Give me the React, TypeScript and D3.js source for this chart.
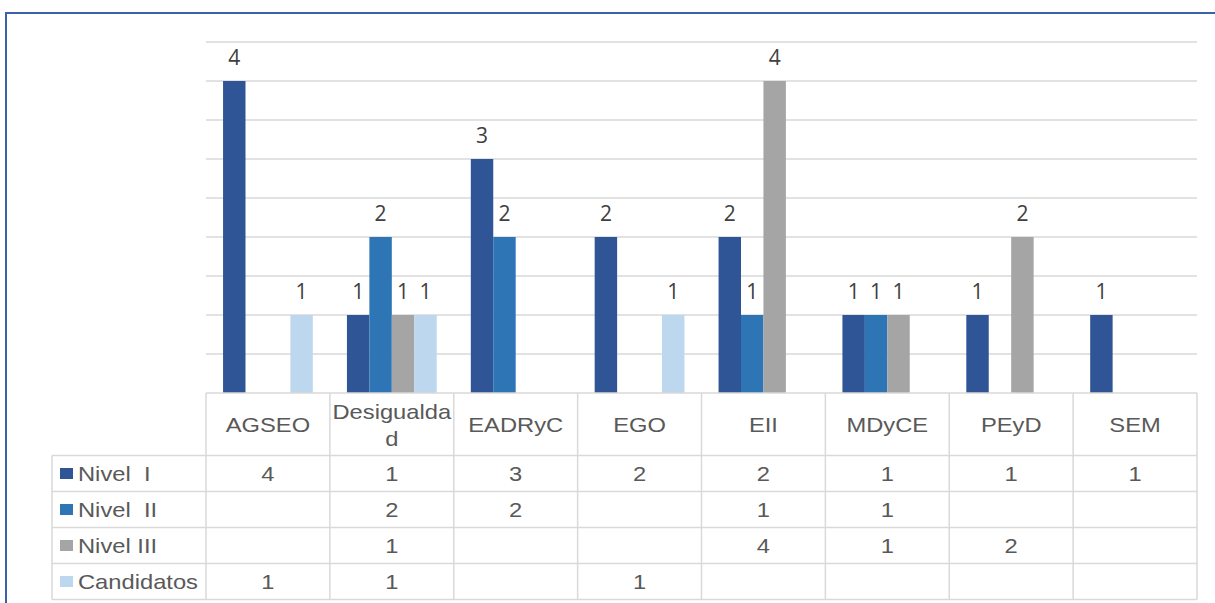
import React from "react";
import * as d3 from "d3";

const categories = ["AGSEO", "Desigualdad", "EADRyC", "EGO", "EII", "MDyCE", "PEyD", "SEM"];
const seriesNames = ["Nivel  I", "Nivel  II", "Nivel III", "Candidatos"];
const nivelI = [4, 1, 3, 2, 2, 1, 1, 1];
const nivelII = [null, 2, 2, null, 1, 1, null, null];
const nivelIII = [null, 1, null, null, 4, 1, 2, null];
const candidatos = [1, 1, null, 1, null, null, null, null];
const colors = ["#2F5597", "#2E75B6", "#A5A5A5", "#BDD7EE"];

const series = [nivelI, nivelII, nivelIII, candidatos];

const W = 1215;
const H = 603;
const plot = {left: 206, right: 1197, top: 42, bottom: 393};
const headerBottom = 455.5;
const rowH = 36;
const legendLeft = 52;
const stretch = 1.13;
const gridColor = "#d9d9d9";
const textColor = "#595959";
const tableFont = "'Liberation Sans', Arial, sans-serif";

// wrap long header labels like Excel does
const wrap = (s: string) => (s.length > 10 ? [s.slice(0, 10), s.slice(10)] : [s]);

const App: React.FC = () => {
    const x = d3.scaleBand<string>().domain(categories).range([plot.left, plot.right]).padding(0);
    const inner = d3
        .scaleBand<number>()
        .domain(d3.range(series.length))
        .range([0, x.bandwidth()])
        .paddingOuter(0.76)
        .paddingInner(0);
    const y = d3.scaleLinear().domain([0, 4.5]).range([plot.bottom, plot.top]);
    const gridTicks = d3.range(0.5, 4.51, 0.5);

    const tableBottom = headerBottom + rowH * series.length;

    return (
        <div style={{position: "absolute", left: 0, top: 0}}>
            <svg width={W} height={H} style={{display: "block"}}>
                <rect width={W} height={H} fill="#fff" />
                {/* chart border */}
                <path d={`M6,${H} V13 H${W}`} fill="none" stroke="#3b62a6" strokeWidth={2} />

                {/* gridlines */}
                {gridTicks.map((t) => (
                    <line key={t} x1={plot.left} x2={plot.right} y1={y(t)} y2={y(t)} stroke={gridColor} strokeWidth={1.4} />
                ))}

                {/* bars */}
                {series.map((vals, si) =>
                    vals.map((v, ci) =>
                        v == null ? null : (
                            <rect
                                key={`${si}-${ci}`}
                                x={(x(categories[ci]) || 0) + (inner(si) || 0)}
                                y={y(v)}
                                width={inner.bandwidth()}
                                height={y(0) - y(v)}
                                fill={colors[si]}
                            />
                        )
                    )
                )}

                {/* data labels */}
                {series.map((vals, si) =>
                    vals.map((v, ci) =>
                        v == null ? null : (
                            <text
                                key={`l${si}-${ci}`}
                                x={(x(categories[ci]) || 0) + (inner(si) || 0) + inner.bandwidth() / 2}
                                y={y(v) - 16.5}
                                textAnchor="middle"
                                fontFamily="'Open Sans', sans-serif"
                                fontSize={21}
                                fill="#404040"
                            >
                                {v}
                            </text>
                        )
                    )
                )}

                {/* data table grid */}
                <g stroke={gridColor} strokeWidth={1.5} fill="none">
                    <line x1={plot.left} x2={plot.right} y1={plot.bottom} y2={plot.bottom} />
                    {d3.range(series.length + 1).map((i) => (
                        <line key={i} x1={legendLeft} x2={plot.right} y1={headerBottom + i * rowH} y2={headerBottom + i * rowH} />
                    ))}
                    {categories.map((c) => (
                        <line key={c} x1={x(c)} x2={x(c)} y1={plot.bottom} y2={tableBottom} />
                    ))}
                    <line x1={plot.right} x2={plot.right} y1={plot.bottom} y2={tableBottom} />
                    <line x1={legendLeft} x2={legendLeft} y1={headerBottom} y2={tableBottom} />
                </g>

                {/* header labels */}
                {categories.map((c) => {
                    const lines = wrap(c);
                    const cx = (x(c) || 0) + x.bandwidth() / 2;
                    const midY = (plot.bottom + headerBottom) / 2;
                    return lines.map((ln, li) => (
                        <text
                            key={`${c}${li}`}
                            transform={`translate(${cx},${midY + 8 + (li - (lines.length - 1) / 2) * 27}) scale(${stretch},1)`}
                            textAnchor="middle"
                            fontFamily={tableFont}
                            fontSize={21}
                            fill={textColor}
                        >
                            {ln}
                        </text>
                    ));
                })}

                {/* legend column + values */}
                {series.map((vals, si) => {
                    const cy = headerBottom + si * rowH + rowH / 2;
                    return (
                        <g key={`row${si}`}>
                            <rect x={60} y={cy - 5.5} width={13} height={11} fill={colors[si]} />
                            <text
                                transform={`translate(78,${cy + 7.5}) scale(${stretch},1)`}
                                fontFamily={tableFont}
                                fontSize={21}
                                fill={textColor}
                                style={{whiteSpace: "pre"}}
                            >
                                {seriesNames[si]}
                            </text>
                            {vals.map((v, ci) =>
                                v == null ? null : (
                                    <text
                                        key={ci}
                                        transform={`translate(${(x(categories[ci]) || 0) + x.bandwidth() / 2},${cy + 7.5}) scale(${stretch},1)`}
                                        textAnchor="middle"
                                        fontFamily={tableFont}
                                        fontSize={21}
                                        fill={textColor}
                                    >
                                        {v}
                                    </text>
                                )
                            )}
                        </g>
                    );
                })}
            </svg>
        </div>
    );
};

export default App;
